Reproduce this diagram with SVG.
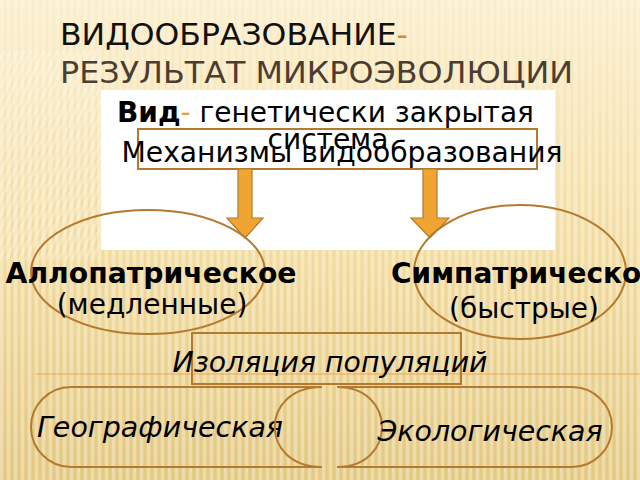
<svg xmlns="http://www.w3.org/2000/svg" width="640" height="480" viewBox="0 0 640 480">
<defs>
<linearGradient id="bg" x1="0" y1="0" x2="0" y2="1">
<stop offset="0" stop-color="#FCF1D3"/>
<stop offset="0.5" stop-color="#F6E2AC"/>
<stop offset="1" stop-color="#E6CD8A"/>
</linearGradient>
<pattern id="vstripe" width="7" height="10" patternUnits="userSpaceOnUse">
<rect x="0" y="0" width="3" height="10" fill="#ffffff" opacity="0.28"/>
<rect x="4" y="0" width="2" height="10" fill="#C9A860" opacity="0.12"/>
</pattern>
<pattern id="dstripe" width="6" height="6" patternUnits="userSpaceOnUse" patternTransform="rotate(25)">
<rect x="0" y="0" width="2.5" height="6" fill="#ffffff" opacity="0.45"/>
</pattern>
<linearGradient id="fadeV" x1="0" y1="0" x2="0" y2="1">
<stop offset="0" stop-color="#fff" stop-opacity="0.25"/>
<stop offset="0.45" stop-color="#fff" stop-opacity="0.8"/>
<stop offset="1" stop-color="#fff" stop-opacity="1"/>
</linearGradient>
<mask id="maskV"><rect width="640" height="480" fill="url(#fadeV)"/></mask>
<style>
.t{font-family:"DejaVu Sans","Verdana",sans-serif;}
.big{font-size:28px;fill:#000;}
.it{font-style:italic;}
.b{font-weight:bold;}
.edge{fill:none;stroke:#B47A30;stroke-width:2;}
.arrow{fill:#F0A431;stroke:#B47A30;stroke-width:1.2;}
</style>
</defs>

<rect width="640" height="480" fill="url(#bg)"/>
<rect width="640" height="480" fill="url(#vstripe)" mask="url(#maskV)"/>
<rect x="0" y="50" width="100" height="210" fill="url(#dstripe)" opacity="0.6"/>

<g id="title" class="t" font-size="30">
<text x="60" y="45" textLength="348" lengthAdjust="spacingAndGlyphs" fill="#111">ВИДООБРАЗОВАНИЕ<tspan fill="#C98B4B">-</tspan></text>
<text x="60" y="83" textLength="513" lengthAdjust="spacingAndGlyphs" fill="#4B3D32">РЕЗУЛЬТАТ МИКРОЭВОЛЮЦИИ</text>
</g>

<rect id="panel" x="101" y="90" width="454" height="160" fill="#ffffff"/>

<g id="mechanisms">
<rect x="138" y="129" width="399" height="40" fill="#ffffff" class="edge"/>
</g>

<g id="species-def" class="t big">
<text x="117" y="122"><tspan class="b">Вид</tspan><tspan fill="#E0A04A">-</tspan> генетически закрытая</text>
<text x="328" y="149" text-anchor="middle">система</text>
</g>

<g id="mechanisms-label" class="t big">
<text x="342" y="162" text-anchor="middle" textLength="441" lengthAdjust="spacingAndGlyphs">Механизмы видообразования</text>
</g>

<g id="connectors">
<polygon class="arrow" points="238,169 252,169 252,218 263,218 245,238 227,218 238,218"/>
<polygon class="arrow" points="423,169 437,169 437,218 449,218 430,238 411,218 423,218"/>
<line x1="36" y1="374" x2="640" y2="374" stroke="#F0A44A" stroke-width="1.2"/>
</g>

<g id="allopatric">
<ellipse cx="148" cy="272" rx="117" ry="62" class="edge"/>
<text class="t big b" x="151" y="283" text-anchor="middle" textLength="291" lengthAdjust="spacingAndGlyphs">Аллопатрическое</text>
<text class="t big" x="152" y="314" text-anchor="middle">(медленные)</text>
</g>

<g id="sympatric">
<ellipse cx="520" cy="272" rx="106" ry="67" class="edge"/>
<text class="t big b" x="391" y="283">Симпатрическо</text>
<text class="t big" x="524" y="318" text-anchor="middle">(быстрые)</text>
</g>

<g id="isolation">
<rect x="192" y="333" width="269" height="51" class="edge"/>
<text class="t big it" x="330" y="372" text-anchor="middle" textLength="315" lengthAdjust="spacingAndGlyphs">Изоляция популяций</text>
</g>

<g id="geographic">
<path class="edge" d="M322,387 L71,387 A40,40 0 0 0 71,467 L322,467"/>
<path class="edge" d="M337,387 C397,387 397,467 337,467"/>
<text class="t big it" x="160" y="437" text-anchor="middle" textLength="246" lengthAdjust="spacingAndGlyphs">Географическая</text>
</g>

<g id="ecological">
<path class="edge" d="M337,387 L572,387 A40,40 0 0 1 572,467 L337,467"/>
<path class="edge" d="M322,387 C259,387 259,467 322,467"/>
<text class="t big it" x="490" y="441" text-anchor="middle" textLength="225" lengthAdjust="spacingAndGlyphs">Экологическая</text>
</g>
</svg>
